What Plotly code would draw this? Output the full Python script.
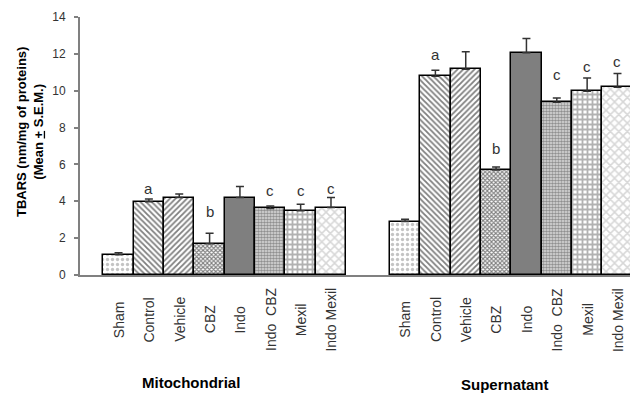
import plotly.graph_objects as go

# ---- data ----
groups = ["Mitochondrial", "Supernatant"]
categories = ["Sham", "Control", "Vehicle", "CBZ", "Indo", "Indo  CBZ", "Mexil", "Indo Mexil"]
mito_values = [1.10, 3.97, 4.20, 1.70, 4.20, 3.61, 3.49, 3.66]
mito_errors = [0.11, 0.15, 0.20, 0.57, 0.60, 0.14, 0.35, 0.55]
super_values = [2.90, 10.78, 11.17, 5.70, 12.06, 9.38, 9.97, 10.19]
super_errors = [0.13, 0.33, 0.95, 0.16, 0.77, 0.23, 0.72, 0.75]
mito_letters = ["", "a", "", "b", "", "c", "c", "c"]
mito_letter_y = [None, 4.68, None, 3.46, None, 4.57, 4.57, 4.68]
super_letters = ["", "a", "", "b", "", "c", "c", "c"]
super_letter_y = [None, 11.99, None, 6.88, None, 10.86, 11.29, 11.61]
y_ticks = [0, 2, 4, 6, 8, 10, 12, 14]

# ---- styles ----
patterns = [
    dict(shape=".", fgcolor="#8a8a8a", bgcolor="white", size=5, solidity=0.35),
    dict(shape="\\", fgcolor="black", bgcolor="white", size=4, solidity=0.45),
    dict(shape="/", fgcolor="black", bgcolor="white", size=4, solidity=0.45),
    dict(shape="x", fgcolor="black", bgcolor="white", size=3, solidity=0.6),
    dict(shape="", fgcolor="#7f7f7f", bgcolor="#7f7f7f"),
    dict(shape=".", fgcolor="#404040", bgcolor="#e0e0e0", size=3, solidity=0.6),
    dict(shape="+", fgcolor="#666666", bgcolor="white", size=5, solidity=0.6),
    dict(shape="x", fgcolor="#b0b0b0", bgcolor="white", size=6, solidity=0.45),
]
fills = ["white", "white", "white", "white", "#7f7f7f", "white", "white", "white"]

group_offset = 9.44
mito_x = [i for i in range(len(categories))]
super_x = [group_offset + i for i in range(len(categories))]

fig = go.Figure()
for i, cat in enumerate(categories):
    fig.add_trace(go.Bar(
        x=[mito_x[i], super_x[i]],
        y=[mito_values[i], super_values[i]],
        width=1,
        name=cat,
        marker=dict(color=fills[i], pattern=patterns[i],
                    line=dict(color="black", width=1.5)),
        error_y=dict(type="data", symmetric=False,
                     array=[mito_errors[i], super_errors[i]],
                     arrayminus=[0, 0], color="#333333", thickness=1.5, width=4),
        showlegend=False,
    ))

font_family = "Liberation Sans, Arial, sans-serif"
annotations = []
# category labels
for i, cat in enumerate(categories):
    for xv in (mito_x[i], super_x[i]):
        annotations.append(dict(x=xv, xref="x", y=-0.173, yref="paper", text=cat,
                                textangle=-90, showarrow=False, xanchor="center",
                                yanchor="middle", font=dict(size=14, color="#333333")))
# significance letters
for letters, ys, xs in ((mito_letters, mito_letter_y, mito_x), (super_letters, super_letter_y, super_x)):
    for l, yv, xv in zip(letters, ys, xs):
        if l:
            annotations.append(dict(x=xv, y=yv, xref="x", yref="y", text=l, showarrow=False,
                                    xanchor="center", yanchor="middle",
                                    font=dict(size=15, color="#333333")))
# group labels
annotations.append(dict(x=0.2, y=-0.415, xref="paper", yref="paper", text="<b>" + groups[0] + "</b>",
                        showarrow=False, xanchor="center", yanchor="middle",
                        font=dict(size=15, color="black")))
annotations.append(dict(x=0.764, y=-0.423, xref="paper", yref="paper", text="<b>" + groups[1] + "</b>",
                        showarrow=False, xanchor="center", yanchor="middle",
                        font=dict(size=15, color="black")))
# y-axis title
annotations.append(dict(x=-0.09, y=0.554, xref="paper", yref="paper",
                        text="<b>TBARS (nm/mg of proteins)<br>(Mean <u>+</u> S.E.M.)</b>",
                        textangle=-90, showarrow=False, xanchor="center", yanchor="middle",
                        font=dict(size=13, color="black")))

# page body has an 8px margin, so the figure is sized to fit the 638x396 window
fig.update_layout(
    width=630, height=388,
    margin=dict(l=72, r=2, t=7, b=121),
    paper_bgcolor="white", plot_bgcolor="white",
    barmode="overlay", bargap=0,
    font=dict(family=font_family, color="#333333"),
    annotations=annotations,
    xaxis=dict(range=[-1.27, 17.05], showticklabels=False, ticks="", showgrid=False,
               zeroline=False, showline=True, linecolor="#808080", linewidth=2),
    yaxis=dict(range=[0, 14], tickvals=y_ticks, ticks="outside", ticklen=4,
               tickcolor="#808080", tickwidth=1.5, showgrid=False, zeroline=False,
               showline=True, linecolor="#808080", linewidth=2, ticklabelstandoff=6,
               tickfont=dict(size=12, color="#333333")),
)

fig.write_html("out.html")
